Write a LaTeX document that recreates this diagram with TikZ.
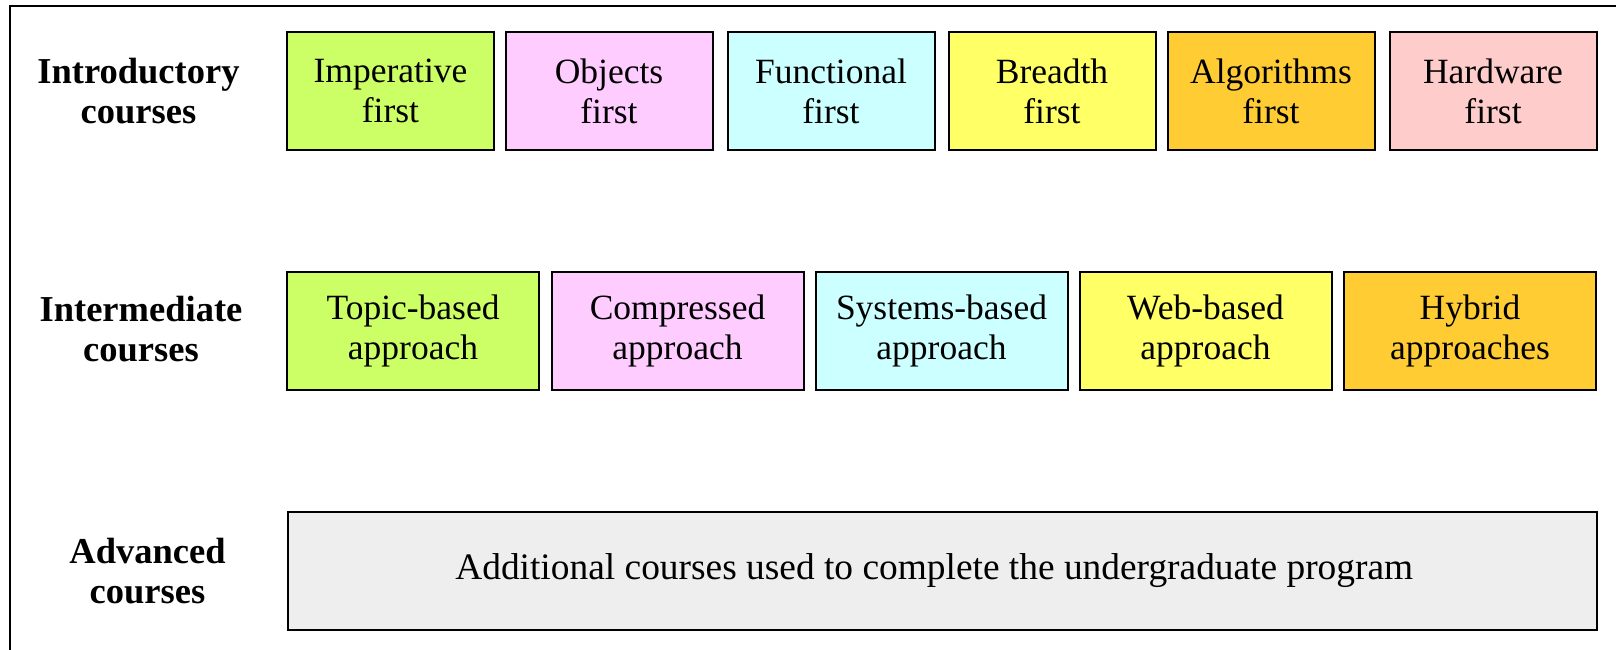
\documentclass[tikz,border=0pt]{standalone}
\usepackage{fontspec}
\setmainfont{Liberation Serif}
\definecolor{cImp}{HTML}{CCFF66}
\definecolor{cObj}{HTML}{FFCCFF}
\definecolor{cFun}{HTML}{CCFFFF}
\definecolor{cBre}{HTML}{FFFF66}
\definecolor{cAlg}{HTML}{FFCC33}
\definecolor{cHw}{HTML}{FFCCCC}
\definecolor{cAdv}{HTML}{EEEEEE}
\tikzset{
  course/.style={draw=black, line width=2pt, inner sep=0pt, align=center,
    minimum height=118pt, font=\fontsize{35.5}{40}\selectfont},
  introbox/.style={course, minimum width=207pt},
  midbox/.style={course, minimum width=252pt},
  levellabel/.style={inner sep=0pt, align=center,
    font=\fontsize{36.5}{40}\selectfont\bfseries}
}
\begin{document}
\begin{tikzpicture}[x=1pt, y=-1pt]
\useasboundingbox (0,0) rectangle (1616,650);
% outer frame (only the top and left edges fall inside the page)
\draw[line width=2pt] (10,660) -- (10,5.7) -- (1630,5.7);

% level labels
\node[levellabel] (lintro) at (138.5,91) {Introductory\\courses};
\node[levellabel] (lmid)   at (141,329) {Intermediate\\courses};
\node[levellabel] (ladv)   at (147.5,571) {Advanced\\courses};

% introductory courses
\node[introbox, fill=cImp] (imp) at (390.5,91) {Imperative\\first};
\node[introbox, fill=cObj] (obj) at (609,91)   {Objects\\first};
\node[introbox, fill=cFun] (fun) at (831,91)   {Functional\\first};
\node[introbox, fill=cBre] (bre) at (1052,91)  {Breadth\\first};
\node[introbox, fill=cAlg] (alg) at (1271,91)  {Algorithms\\first};
\node[introbox, fill=cHw]  (hw)  at (1493,91)  {Hardware\\first};

% intermediate courses
\node[midbox, fill=cImp] (top) at (413,331)    {Topic-based\\approach};
\node[midbox, fill=cObj] (com) at (677.5,331)  {Compressed\\approach};
\node[midbox, fill=cFun] (sys) at (941.5,331)  {Systems-based\\approach};
\node[midbox, fill=cBre] (web) at (1205.5,331) {Web-based\\approach};
\node[midbox, fill=cAlg] (hyb) at (1470,331)   {Hybrid\\approaches};

% advanced courses (text sits slightly left of the box centre)
\node[course, fill=cAdv, minimum width=1309.5pt, font=\fontsize{37.4}{40}\selectfont]
  (adv) at (942.25,571)
  {Additional courses used to complete the undergraduate program\kern16pt};
\end{tikzpicture}
\end{document}
